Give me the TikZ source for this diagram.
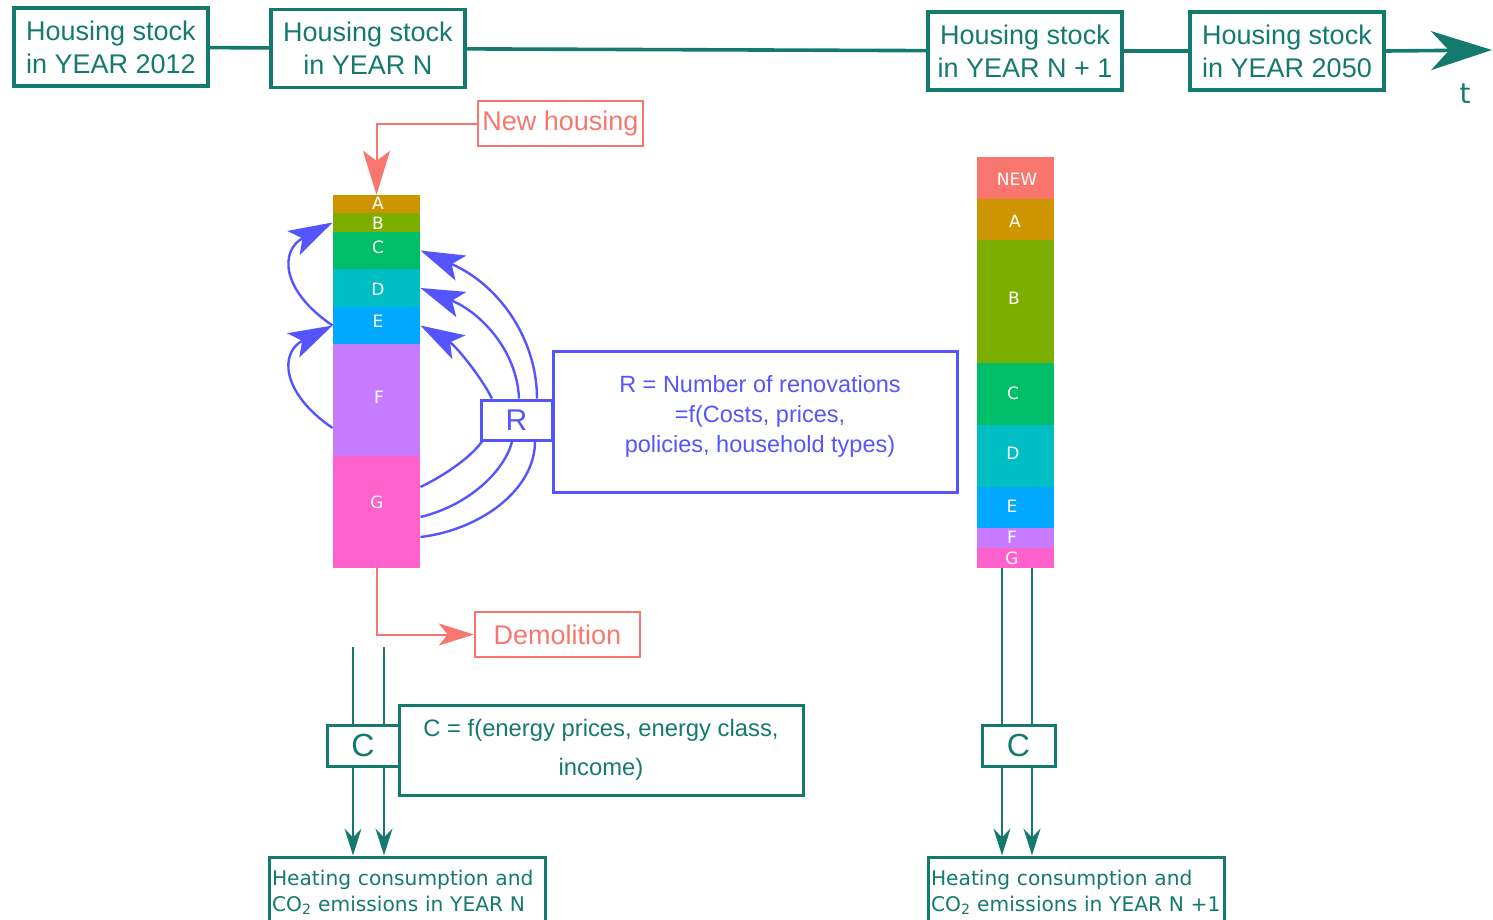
\documentclass[tikz,border=0pt]{standalone}
\usepackage{fontspec}
\setmainfont{Liberation Sans}
\newfontfamily\dejavu{DejaVu Sans}
\usetikzlibrary{arrows.meta,calc}
\definecolor{tealc}{RGB}{20,122,110}
\definecolor{salmon}{RGB}{248,118,109}
\definecolor{rblue}{RGB}{85,85,255}
\definecolor{cNEW}{HTML}{F8766D}
\definecolor{cA}{HTML}{CD9600}
\definecolor{cB}{HTML}{7CAE00}
\definecolor{cC}{HTML}{00BE67}
\definecolor{cD}{HTML}{00BFC4}
\definecolor{cE}{HTML}{00A9FF}
\definecolor{cF}{HTML}{C77CFF}
\definecolor{cG}{HTML}{FF61CC}
\begin{document}
\begin{tikzpicture}[x=1pt,y=-1pt,
  tbox/.style={draw=tealc, line width=3.3pt, text=tealc, inner sep=0pt, align=center,
     minimum width=194pt, minimum height=78pt, font=\fontsize{27}{33}\selectfont},
  lseg/.style={fill=#1, draw=none, inner sep=0pt, minimum width=87.5pt},
  rseg/.style={fill=#1, draw=none, inner sep=0pt, minimum width=77.5pt},
  blab/.style={text=white, inner sep=0pt, font=\dejavu\fontsize{17}{17}\selectfont},
  sbox/.style={draw=salmon, line width=2.5pt, text=salmon, inner sep=0pt,
     minimum width=165pt, minimum height=45pt, font=\fontsize{27}{27}\selectfont},
  bbox/.style={draw=rblue, line width=3pt, text=rblue, inner sep=0pt},
  cbox/.style={draw=tealc, line width=3pt, text=tealc, inner sep=0pt},
  hbox/.style={draw=tealc, line width=3pt, text=tealc, inner xsep=3pt, inner ysep=0pt,
     align=left, minimum height=70pt, font=\dejavu\fontsize{20.2}{26}\selectfont},
  bigtip/.style={-{Stealth[length=44pt,width=27pt,inset=10pt]}},
  barrow/.style={rblue, line width=2.4pt},
  tline/.style={tealc, line width=1.7pt},
  ttip/.style={-{Stealth[length=27pt,width=17pt,inset=9pt]}}
]
\useasboundingbox (0,0) rectangle (1493,919);

% timeline
\node[tbox] (b1) at (111,47) {Housing stock\\in YEAR 2012};
\node[tbox] (b2) at (368,48.5) {Housing stock\\in YEAR N};
\node[tbox] (b3) at (1025,51) {Housing stock\\in YEAR N + 1};
\node[tbox] (b4) at (1287,51) {Housing stock\\in YEAR 2050};
\coordinate (tend) at (1492,50);
\draw[tealc, line width=3.6pt] (b1) -- (b2);
\draw[tealc, line width=3.6pt] (b2) -- (b3);
\draw[tealc, line width=3.6pt] (b3) -- (b4);
\draw[tealc, line width=3.6pt, -{Stealth[length=61pt,width=39pt,inset=18pt]}] (b4.east) -- (tend);
\node[text=tealc, font=\dejavu\fontsize{28}{28}\selectfont] (tlab) at (1465,94) {t};

% left bar
\node[lseg=cA] (segA) at (376.5,204) [minimum height=18pt] {};
\node[lseg=cB] (segB) at (376.5,222.5) [minimum height=19pt] {};
\node[lseg=cC] (segC) at (376.5,250.5) [minimum height=37pt] {};
\node[lseg=cD] (segD) at (376.5,288) [minimum height=38pt] {};
\node[lseg=cE] (segE) at (376.5,325.5) [minimum height=37pt] {};
\node[lseg=cF] (segF) at (376.5,400) [minimum height=112pt] {};
\node[lseg=cG] (segG) at (376.5,512) [minimum height=112pt] {};
\node[blab] (lA) at (378,203) {A};
\node[blab] (lB) at (378,223) {B};
\node[blab] (lC) at (378,247) {C};
\node[blab] (lD) at (378,289) {D};
\node[blab] (lE) at (378,321) {E};
\node[blab] (lF) at (379,397) {F};
\node[blab] (lG) at (377,502) {G};

% right bar
\node[rseg=cNEW] (rN) at (1015.5,178) [minimum height=42pt] {};
\node[rseg=cA] (rA) at (1015.5,219.5) [minimum height=41pt] {};
\node[rseg=cB] (rB) at (1015.5,301.5) [minimum height=123pt] {};
\node[rseg=cC] (rC) at (1015.5,394) [minimum height=62pt] {};
\node[rseg=cD] (rD) at (1015.5,456) [minimum height=62pt] {};
\node[rseg=cE] (rE) at (1015.5,507.5) [minimum height=41pt] {};
\node[rseg=cF] (rF) at (1015.5,538) [minimum height=20pt] {};
\node[rseg=cG] (rG) at (1015.5,558) [minimum height=20pt] {};
\node[blab] (tN) at (1017,179) {NEW};
\node[blab] (tA) at (1015,221) {A};
\node[blab] (tB) at (1014,298) {B};
\node[blab] (tC) at (1013,393) {C};
\node[blab] (tD) at (1013,453) {D};
\node[blab] (tE) at (1012,506) {E};
\node[blab] (tF) at (1012,537) {F};
\node[blab] (tG) at (1012,558) {G};

% new housing / demolition
\node[sbox] (NH) at (560.5,123.5) {New housing};
\node[sbox] (DM) at (557.5,634.5) {Demolition};
\draw[salmon, line width=2pt, bigtip] (NH.west) -| (segA.north);
\draw[salmon, line width=2pt, -{Stealth[length=35pt,width=22pt,inset=9pt]}] (segG.south) |- (DM.west);

% renovation
\node[bbox, minimum width=71pt, minimum height=40pt, font=\fontsize{30}{30}\selectfont] (R) at (516.5,420) {R};
\node[bbox, minimum width=404pt, minimum height=141pt] (RE) at (755,422) {};
\node[text=rblue, align=center, inner sep=0pt, font=\fontsize{23.5}{30}\selectfont] (REt) at (760,416)
  {R = Number of renovations\\=f(Costs, prices,\\policies, household types)};

\draw[barrow, bigtip] (segE.west) .. controls (280,290) and (280,250) .. (segB.west);
\draw[barrow, bigtip] ($(segF.west)+(0,28)$) .. controls (280,392) and (280,352) .. (segE.west);
\draw[barrow, bigtip] ($(R.north)+(20.5,0)$) .. controls (537,340) and (500,285) .. (segC.east);
\draw[barrow, bigtip] ($(R.north)+(2.5,0)$) .. controls (517,350) and (480,312) .. (segD.east);
\draw[barrow, bigtip] ($(R.north)+(-24.5,0)$) .. controls (480,375) and (455,345) .. (segE.east);
\draw[barrow] ($(R.south)+(-34.5,0)$) .. controls (470,458) and (445,475) .. ($(segG.east)+(0,-25)$);
\draw[barrow] ($(R.south)+(-4.5,0)$) .. controls (505,470) and (470,505) .. ($(segG.east)+(0,5)$);
\draw[barrow] ($(R.south)+(18.5,0)$) .. controls (535,490) and (480,530) .. ($(segG.east)+(0,25)$);

% consumption left
\node[cbox, minimum width=72pt, minimum height=41pt, font=\fontsize{32}{32}\selectfont] (CL) at (363,745.5) {C};
\node[cbox, minimum width=404pt, minimum height=90pt, align=center, font=\fontsize{23.8}{39}\selectfont] (CE) at (601,750)
  {C = f(energy prices, energy class,\\income)};
\node[hbox, text width=270pt] (HL) at (407,892) {\mbox{Heating consumption and}\\\mbox{CO\textsubscript{2} emissions in YEAR N}};
\coordinate (l1) at (353,647);
\coordinate (l2) at (384,647);
\draw[tline] (l1) -- (l1 |- CL.north);
\draw[tline] (l2) -- (l2 |- CL.north);
\draw[tline, ttip] (l1 |- CL.south) -- (l1 |- HL.north);
\draw[tline, ttip] (l2 |- CL.south) -- (l2 |- HL.north);

% consumption right
\node[cbox, minimum width=73pt, minimum height=41pt, font=\fontsize{32}{32}\selectfont] (CR) at (1018.5,745.5) {C};
\node[hbox, text width=290pt] (HR) at (1076,892) {\mbox{Heating consumption and}\\\mbox{CO\textsubscript{2} emissions in YEAR N +1}};
\coordinate (r1) at (1002,568);
\coordinate (r2) at (1032,568);
\draw[tline] (r1) -- (r1 |- CR.north);
\draw[tline] (r2) -- (r2 |- CR.north);
\draw[tline, ttip] (r1 |- CR.south) -- (r1 |- HR.north);
\draw[tline, ttip] (r2 |- CR.south) -- (r2 |- HR.north);
\end{tikzpicture}
\end{document}
